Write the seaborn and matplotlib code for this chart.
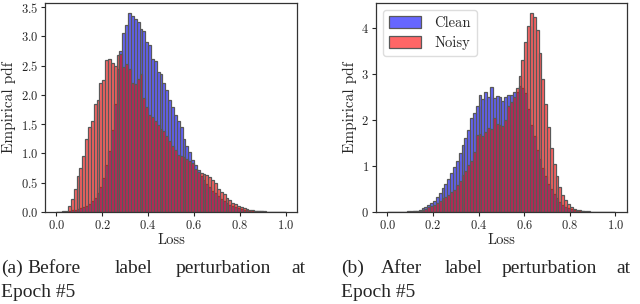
import numpy as np
import pandas as pd
import matplotlib
matplotlib.use("Agg")
import matplotlib.pyplot as plt
import seaborn as sns

# ---data: empirical pdf per loss bin (80 bins on [0, 1])---
bin_edges = np.linspace(0, 1, 81)
bin_centers = (bin_edges[:-1] + bin_edges[1:]) / 2

# (a) before label perturbation
clean_before = [0.0, 0.005, 0.01, 0.01, 0.02, 0.03, 0.04, 0.05, 0.07, 0.09,
                0.11, 0.14, 0.18, 0.24, 0.32, 0.42, 0.58, 0.80, 1.05, 1.40,
                1.85, 2.45, 2.75, 3.05, 3.20, 3.40, 3.35, 3.30, 3.25, 3.12,
                3.10, 2.90, 2.85, 2.62, 2.58, 2.40, 2.35, 2.20, 2.08, 1.92,
                1.80, 1.65, 1.55, 1.45, 1.25, 1.12, 1.02, 0.88, 0.80, 0.72,
                0.62, 0.55, 0.48, 0.42, 0.36, 0.32, 0.27, 0.22, 0.18, 0.15,
                0.12, 0.10, 0.08, 0.06, 0.05, 0.04, 0.03, 0.025, 0.02, 0.015,
                0.01, 0.01, 0.008, 0.005, 0.004, 0.003, 0.002, 0.002, 0.001, 0.001]
noisy_before = [0.0, 0.0, 0.0, 0.0, 0.10, 0.22, 0.40, 0.62, 0.75, 0.95,
                1.25, 1.45, 1.55, 1.85, 1.92, 2.20, 2.25, 2.60, 2.62, 2.55,
                2.50, 2.68, 2.70, 2.48, 2.52, 2.45, 2.20, 2.18, 2.28, 2.35,
                1.95, 1.80, 1.65, 1.62, 1.55, 1.48, 1.42, 1.38, 1.30, 1.22,
                1.12, 1.06, 0.98, 0.96, 0.94, 0.90, 0.87, 0.83, 0.74, 0.68,
                0.67, 0.65, 0.63, 0.60, 0.55, 0.50, 0.40, 0.34, 0.30, 0.24,
                0.20, 0.16, 0.13, 0.10, 0.08, 0.06, 0.05, 0.04, 0.03, 0.025,
                0.02, 0.015, 0.01, 0.008, 0.005, 0.004, 0.003, 0.002, 0.001, 0.0]

# (b) after label perturbation
clean_after = [0.0, 0.0, 0.002, 0.003, 0.005, 0.007, 0.01, 0.012, 0.015, 0.02,
               0.03, 0.05, 0.08, 0.11, 0.15, 0.20, 0.25, 0.33, 0.42, 0.52,
               0.60, 0.72, 0.85, 0.98, 1.12, 1.28, 1.45, 1.62, 1.78, 2.05,
               2.15, 2.30, 2.55, 2.45, 2.62, 2.50, 2.72, 2.48, 2.52, 2.50,
               2.42, 2.50, 2.55, 2.55, 2.60, 2.62, 2.75, 2.70, 2.58, 2.25,
               1.90, 1.65, 1.35, 1.15, 0.95, 0.78, 0.62, 0.50, 0.40, 0.30,
               0.22, 0.16, 0.11, 0.08, 0.06, 0.04, 0.03, 0.02, 0.015, 0.01,
               0.008, 0.006, 0.004, 0.003, 0.002, 0.002, 0.001, 0.001, 0.0, 0.0]
noisy_after = [0.0, 0.0, 0.0, 0.002, 0.003, 0.004, 0.005, 0.007, 0.01, 0.012,
               0.02, 0.03, 0.05, 0.07, 0.10, 0.13, 0.16, 0.20, 0.25, 0.30,
               0.33, 0.38, 0.43, 0.48, 0.58, 0.68, 0.80, 0.90, 1.02, 1.12,
               1.30, 1.68, 1.70, 1.66, 1.75, 1.82, 1.80, 2.05, 1.92, 1.90,
               1.88, 2.00, 2.30, 2.40, 2.50, 2.70, 2.95, 3.30, 3.70, 4.05,
               4.33, 4.25, 3.95, 3.45, 2.90, 2.35, 1.85, 1.40, 1.05, 0.78,
               0.55, 0.38, 0.26, 0.17, 0.11, 0.07, 0.05, 0.035, 0.025, 0.018,
               0.012, 0.008, 0.006, 0.004, 0.003, 0.002, 0.002, 0.001, 0.001, 0.0]

panels = [(clean_before, noisy_before), (clean_after, noisy_after)]
series_labels = ["Clean", "Noisy"]

# ---plot style---
sns.set_style("ticks")
plt.rcParams["font.family"] = ["cmr10", "DejaVu Serif"]
plt.rcParams["axes.formatter.use_mathtext"] = True
plt.rcParams["mathtext.fontset"] = "cm"

fig = plt.figure(figsize=(6.4, 3.04), dpi=100)
ax_a = fig.add_axes([0.0703, 0.3026, 0.394, 0.6875])
ax_b = fig.add_axes([0.5875, 0.3026, 0.392, 0.6875])

for ax, (clean, noisy) in zip([ax_a, ax_b], panels):
    for vals, col, lab in [(clean, "blue", series_labels[0]), (noisy, "red", series_labels[1])]:
        df = pd.DataFrame({"loss": bin_centers, "pdf": vals})
        sns.histplot(data=df, x="loss", weights="pdf", bins=list(bin_edges),
                     stat="count", color=col, alpha=0.6, edgecolor="0.35",
                     linewidth=0.9, label=lab, ax=ax)
    ax.set_xlabel("Loss", fontsize=10.5, labelpad=1)
    ax.set_ylabel("Empirical pdf", fontsize=11, labelpad=3)
    ax.tick_params(labelsize=9, length=3, width=0.8, pad=2)
    ax.set_xticks([0.0, 0.2, 0.4, 0.6, 0.8, 1.0])
    for s in ax.spines.values():
        s.set_color("#333333")
        s.set_linewidth(0.9)

ax_b.legend(loc="upper left", fontsize=10.5, handlelength=2.2,
            handleheight=0.9, handletextpad=0.9, borderaxespad=0.5,
            labelspacing=0.4, framealpha=1, edgecolor="#dddddd", fancybox=True)

# ---captions (justified, word by word)---
cap_font = dict(family="Liberation Serif", fontsize=14, va="baseline")
words_a = [("(a)", 1), ("Before", 27), ("label", 115), ("perturbation", 176), ("at", 291)]
words_b = [("(b)", 341), ("After", 381), ("label", 445), ("perturbation", 502), ("at", 616)]
for words in [words_a, words_b]:
    for w, x in words:
        fig.text(x / 640, 1 - 273 / 304, w, ha="left", **cap_font)
fig.text(1 / 640, 1 - 297 / 304, "Epoch #5", ha="left", **cap_font)
fig.text(341 / 640, 1 - 297 / 304, "Epoch #5", ha="left", **cap_font)

plt.savefig("out.png", dpi=100)
